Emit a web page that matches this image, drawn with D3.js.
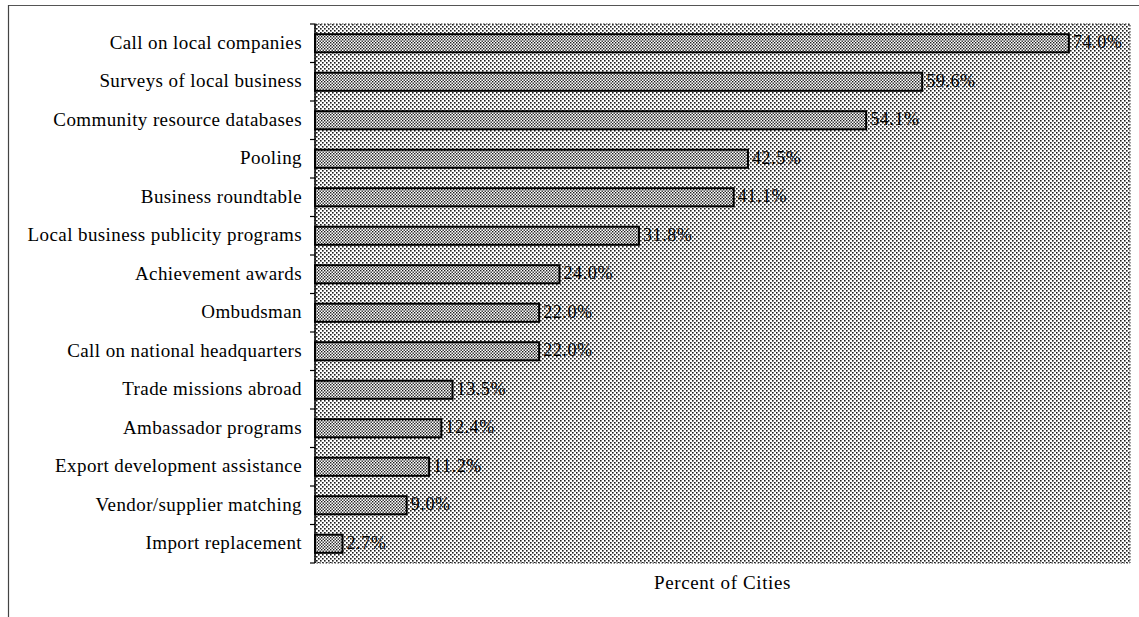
<!DOCTYPE html>
<html>
<head>
<meta charset="utf-8">
<script src="https://cdn.jsdelivr.net/npm/d3@7"></script>
<style>
html, body { margin: 0; padding: 0; background: #fff; }
svg { display: block; }
</style>
</head>
<body>
<svg id="chart" width="1139" height="617"></svg>
<script>
const categories = [
  "Call on local companies",
  "Surveys of local business",
  "Community resource databases",
  "Pooling",
  "Business roundtable",
  "Local business publicity programs",
  "Achievement awards",
  "Ombudsman",
  "Call on national headquarters",
  "Trade missions abroad",
  "Ambassador programs",
  "Export development assistance",
  "Vendor/supplier matching",
  "Import replacement"
];
const values = [74.0, 59.6, 54.1, 42.5, 41.1, 31.8, 24.0, 22.0, 22.0, 13.5, 12.4, 11.2, 9.0, 2.7];
const valueLabels = ["74.0%", "59.6%", "54.1%", "42.5%", "41.1%", "31.8%", "24.0%", "22.0%", "22.0%", "13.5%", "12.4%", "11.2%", "9.0%", "2.7%"];
const xDomain = [0, 80];
const axisTitle = "Percent of Cities";

const svg = d3.select("#chart");
const W = 1139, H = 617;
const plot = { left: 315, right: 1130, top: 24, bottom: 563 };
const serif = "'Liberation Serif', 'Times New Roman', serif";

// patterns
const defs = svg.append("defs");
const bgPat = defs.append("pattern").attr("id", "bgdots")
  .attr("patternUnits", "userSpaceOnUse").attr("width", 4).attr("height", 4);
bgPat.append("rect").attr("width", 4).attr("height", 4).attr("fill", "#fff");
bgPat.append("rect").attr("x", 0).attr("y", 0).attr("width", 1.6).attr("height", 1.6).attr("fill", "#1c1c1c");
bgPat.append("rect").attr("x", 2).attr("y", 2).attr("width", 1.6).attr("height", 1.6).attr("fill", "#1c1c1c");

const barPat = defs.append("pattern").attr("id", "bardots")
  .attr("patternUnits", "userSpaceOnUse").attr("width", 3).attr("height", 3);
barPat.append("rect").attr("width", 3).attr("height", 3).attr("fill", "#fff");
barPat.append("rect").attr("x", 0).attr("y", 0).attr("width", 1.4).attr("height", 1.4).attr("fill", "#1a1a1a");
barPat.append("rect").attr("x", 1.5).attr("y", 1.5).attr("width", 1.4).attr("height", 1.4).attr("fill", "#1a1a1a");

// outer scanned frame
svg.append("line").attr("x1", 8).attr("x2", W).attr("y1", 5.5).attr("y2", 5.5)
  .attr("stroke", "#555").attr("stroke-width", 1.2);
svg.append("line").attr("x1", 8.5).attr("x2", 8.5).attr("y1", 5).attr("y2", H)
  .attr("stroke", "#444").attr("stroke-width", 1.2);

const x = d3.scaleLinear().domain(xDomain).range([plot.left, plot.right]);
const y = d3.scaleBand().domain(categories).range([plot.top, plot.bottom])
  .paddingInner(0.53).paddingOuter(0.265);
const yb = d3.scaleBand().domain(categories).range([plot.top, plot.bottom]).padding(0);

// plot background
svg.append("rect")
  .attr("x", plot.left).attr("y", plot.top)
  .attr("width", plot.right - plot.left).attr("height", plot.bottom - plot.top)
  .attr("fill", "url(#bgdots)")
  .attr("stroke", "#333").attr("stroke-width", 1).attr("stroke-dasharray", "1.5,1.5");

// bars
svg.append("g").selectAll("rect").data(categories).join("rect")
  .attr("x", x(0))
  .attr("y", d => y(d))
  .attr("width", (d, i) => x(values[i]) - x(0))
  .attr("height", y.bandwidth())
  .attr("fill", "url(#bardots)")
  .attr("stroke", "#000").attr("stroke-width", 2);

// value labels
svg.append("g").selectAll("text").data(categories).join("text")
  .attr("x", (d, i) => x(values[i]) + 4)
  .attr("y", d => y(d) + y.bandwidth() / 2)
  .attr("dy", "0.27em")
  .attr("font-family", serif)
  .attr("font-size", 18)
  .attr("letter-spacing", 0.6)
  .attr("fill", "#000")
  .text((d, i) => valueLabels[i]);

// left axis with labels
const yAxis = d3.axisLeft(y).tickSize(0).tickPadding(13);
const ag = svg.append("g").attr("transform", `translate(${plot.left},0)`).call(yAxis);
ag.select(".domain").attr("stroke", "#000").attr("stroke-width", 1.5)
  .attr("d", `M0,${plot.top}V${plot.bottom}`);
ag.selectAll("text")
  .attr("font-family", serif)
  .attr("font-size", 19)
  .attr("letter-spacing", 0.4)
  .attr("dy", "0.3em")
  .attr("fill", "#000");

// boundary ticks
const bounds = categories.map(d => yb(d)).concat([plot.bottom]);
svg.append("g").selectAll("line").data(bounds).join("line")
  .attr("x1", plot.left - 5).attr("x2", plot.left)
  .attr("y1", d => d).attr("y2", d => d)
  .attr("stroke", "#000").attr("stroke-width", 1.2);

// axis title
svg.append("text")
  .attr("x", (plot.left + plot.right) / 2)
  .attr("y", 589)
  .attr("text-anchor", "middle")
  .attr("font-family", serif)
  .attr("font-size", 19)
  .attr("letter-spacing", 0.6)
  .attr("fill", "#000")
  .text(axisTitle);
</script>
</body>
</html>
